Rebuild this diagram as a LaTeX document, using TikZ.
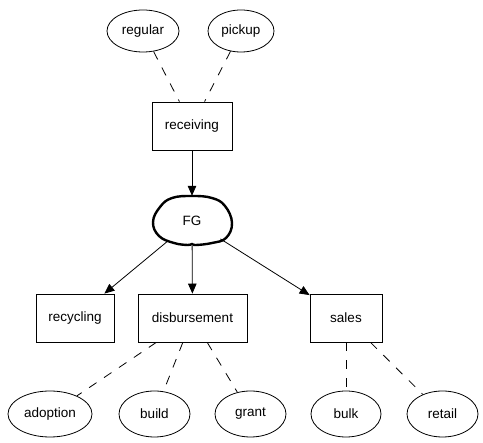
\documentclass[tikz,border=0pt]{standalone}
\usepackage{fontspec}
\setmainfont{Liberation Sans}
\usetikzlibrary{shapes.geometric,arrows.meta}
\begin{document}
\begin{tikzpicture}[x=1pt,y=-1pt,
  every node/.style={font=\fontsize{13.5}{14}\selectfont, inner sep=0pt},
  ell/.style={ellipse, draw, line width=0.8pt, minimum height=42pt},
  boxnode/.style={rectangle, draw, line width=0.8pt, minimum height=48pt},
  dashline/.style={line width=0.8pt, dash pattern=on 9pt off 9pt},
  arr/.style={line width=0.8pt, -{Triangle[length=10pt,width=8.5pt]}}]
\useasboundingbox (0,0) rectangle (483,443);
\fill[white] (0,0) rectangle (483,443);
\node[ell, minimum width=72pt] (regular) at (143,31) {regular};
\node[ell, minimum width=66pt] (pickup) at (241,31) {pickup};
\node[boxnode, minimum width=80pt] (receiving) at (192,126) {receiving};
\node[ellipse, minimum width=80pt, minimum height=50pt] (FG) at (192,221) {FG};
\draw[line width=2.4pt] plot[smooth cycle, tension=0.7] coordinates {
  (192,196) (172,198) (160,207) (153,222) (159,236) (174,243) (188,245)
  (192,244) (196,245) (212,243) (226,238) (232,223) (225,206) (212,198)};
\node[boxnode, minimum width=78pt] (recycling) at (75,318) {recycling};
\node[boxnode, minimum width=109pt] (disbursement) at (192.5,318) {disbursement};
\node[boxnode, minimum width=72pt] (sales) at (346,318) {sales};
\node[ell, minimum width=84pt, minimum height=46pt] (adoption) at (50,414) {adoption};
\node[ell, minimum width=71pt, minimum height=46pt] (build) at (154.5,414) {build};
\node[ell, minimum width=71pt, minimum height=46pt] (grant) at (250.5,414) {grant};
\node[ell, minimum width=70pt, minimum height=46pt] (bulk) at (346,414) {bulk};
\node[ell, minimum width=71pt, minimum height=46pt] (retail) at (442.5,414) {retail};
\draw[dashline] (regular) -- (receiving);
\draw[dashline] (pickup) -- (receiving);
\draw[arr] (receiving) -- (FG);
\draw[arr] (FG) -- (recycling);
\draw[arr] (FG) -- (disbursement);
\draw[arr] (FG) -- (sales);
\draw[dashline] (disbursement) -- (adoption);
\draw[dashline] (disbursement) -- (build);
\draw[dashline] (disbursement) -- (grant);
\draw[dashline] (sales) -- (bulk);
\draw[dashline] (sales) -- (retail);
\end{tikzpicture}
\end{document}
